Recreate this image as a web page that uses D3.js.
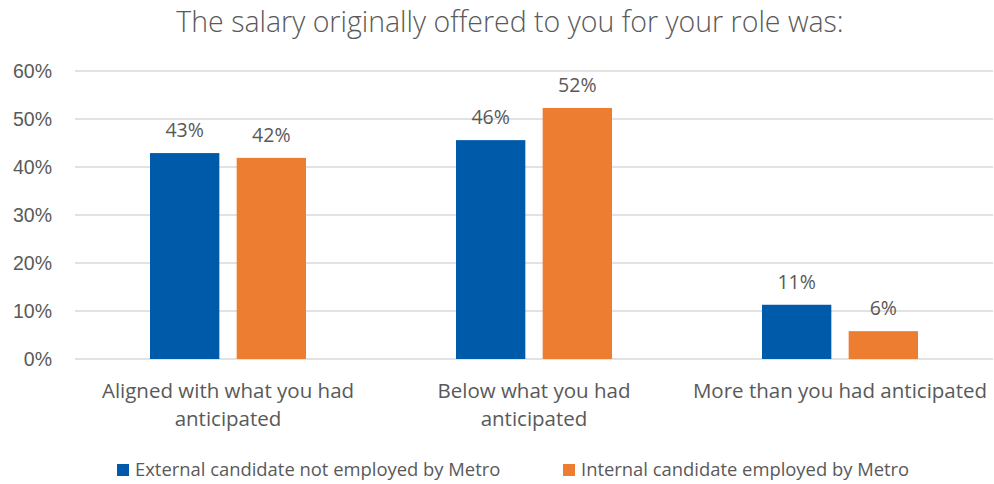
<!DOCTYPE html>
<html>
<head>
<meta charset="utf-8">
<script src="https://cdn.jsdelivr.net/npm/d3@7"></script>
<style>
  body { margin: 0; background: #fff; }
  svg { display: block; font-family: "Open Sans", "Liberation Sans", sans-serif; }
</style>
</head>
<body>
<svg id="chart" width="994" height="484"></svg>
<script>
const categories = [
  ["Aligned with what you had", "anticipated"],
  ["Below what you had", "anticipated"],
  ["More than you had anticipated"]
];
const seriesNames = ["External candidate not employed by Metro", "Internal candidate employed by Metro"];
const external = [0.429, 0.456, 0.113];
const internal = [0.419, 0.523, 0.058];
const yTicks = [0, 0.1, 0.2, 0.3, 0.4, 0.5, 0.6];
const colors = ["#005AAA", "#ED7D31"];

const svg = d3.select("#chart");
const margin = { top: 71, right: 1, bottom: 125, left: 75 };
const width = 994 - margin.left - margin.right;
const height = 484 - margin.top - margin.bottom;

const g = svg.append("g").attr("transform", `translate(${margin.left},${margin.top})`);

const x0 = d3.scaleBand().domain(d3.range(categories.length)).range([0, width]).padding(0);
const x1 = d3.scaleBand().domain([0, 1]).range([75, x0.bandwidth() - 75]).paddingInner(0.2);
const y = d3.scaleLinear().domain([0, 0.6]).range([height, 0]);

// title
svg.append("text")
  .attr("x", 510).attr("y", 32)
  .attr("text-anchor", "middle")
  .attr("fill", "#595959")
  .style("font-size", "28.5px").style("font-weight", 300)
  .text("The salary originally offered to you for your role was:");

// gridlines
g.selectAll(".grid").data(yTicks).enter().append("line")
  .attr("x1", 0).attr("x2", width)
  .attr("y1", d => y(d)).attr("y2", d => y(d))
  .attr("stroke", "#d9d9d9").attr("stroke-width", 1.5);

// y axis labels
const yAxis = d3.axisLeft(y).tickValues(yTicks).tickFormat(d3.format(".0%")).tickSize(0).tickPadding(23);
g.append("g").call(yAxis)
  .call(s => s.select(".domain").remove())
  .selectAll("text")
  .attr("fill", "#595959")
  .style("font-size", "19.5px");

const data = categories.map((c, i) => [external[i], internal[i]]);

const groups = g.selectAll(".cat").data(data).enter().append("g")
  .attr("transform", (d, i) => `translate(${x0(i)},0)`);

groups.selectAll("rect").data(d => d).enter().append("rect")
  .attr("x", (d, j) => x1(j))
  .attr("width", x1.bandwidth())
  .attr("y", d => y(d))
  .attr("height", d => height - y(d))
  .attr("fill", (d, j) => colors[j]);

groups.selectAll(".lbl").data(d => d).enter().append("text")
  .attr("x", (d, j) => x1(j) + x1.bandwidth() / 2)
  .attr("y", d => y(d) - 16)
  .attr("text-anchor", "middle")
  .attr("fill", "#595959")
  .style("font-size", "19.5px")
  .text(d => d3.format(".0%")(d));

// category labels
g.selectAll(".catlbl").data(categories).enter().append("text")
  .attr("x", (d, i) => x0(i) + x0.bandwidth() / 2)
  .attr("y", height + 39)
  .attr("text-anchor", "middle")
  .attr("fill", "#595959")
  .style("font-size", "20.5px")
  .selectAll("tspan").data(d => d).enter().append("tspan")
  .attr("x", function () { return d3.select(this.parentNode).attr("x"); })
  .attr("dy", (d, k) => k === 0 ? 0 : 28)
  .text(d => d);

// legend
const legendX = [117, 563];
const legend = svg.selectAll(".legend").data(seriesNames).enter().append("g")
  .attr("transform", (d, i) => `translate(${legendX[i]},464)`);
legend.append("rect").attr("width", 12).attr("height", 12).attr("fill", (d, i) => colors[i]);
legend.append("text").attr("x", 18).attr("y", 12)
  .attr("fill", "#595959").style("font-size", "18.4px")
  .text(d => d);
</script>
</body>
</html>
